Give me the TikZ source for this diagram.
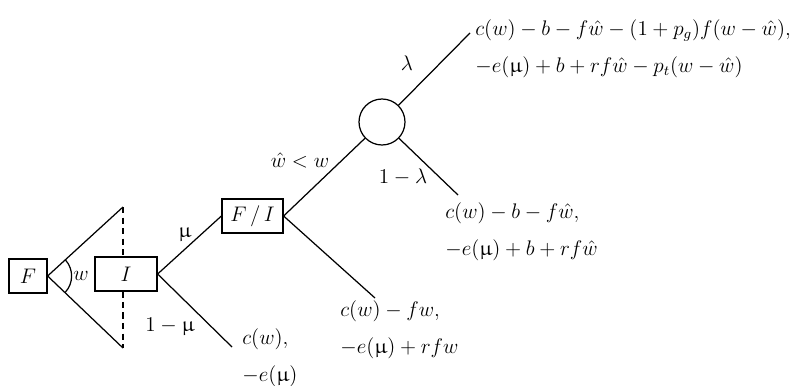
\documentclass[tikz,border=0pt]{standalone}
\usepackage{amsmath}
\usepackage{upgreek}
\usetikzlibrary{positioning}

\begin{document}
\begin{tikzpicture}[
    box/.style={rectangle, draw, fill=white, line width=0.7pt, minimum height=0.68cm, inner sep=0pt, font=\large},
    chance/.style={circle, draw, line width=0.7pt, minimum size=0.92cm, inner sep=0pt},
    pay/.style={align=left, anchor=west, inner sep=0pt, font=\fontsize{12}{21}\selectfont},
    lbl/.style={inner sep=0pt, font=\large},
    branch/.style={line width=0.7pt}
]
    \useasboundingbox (0,0) rectangle (15.94,-7.7);
    % free ends of the branches
    \coordinate (wtop) at (2.46,-4.14);
    \coordinate (wbot) at (2.46,-6.96);
    \coordinate (endmu) at (4.64,-6.94);
    \coordinate (endlam) at (9.4,-0.66);
    \coordinate (endnlam) at (9.16,-3.9);
    \coordinate (endfi) at (7.5,-5.96);
    \draw[branch, dash pattern=on 3.5pt off 2.5pt] (wtop) -- (wbot);
    \node[box, minimum width=0.76cm] (F) at (0.56,-5.52) {$F$};
    \node[box, minimum width=1.24cm] (I) at (2.52,-5.48) {$I$};
    \node[box, minimum width=1.22cm] (FI) at (5.05,-4.32) {$F\,/\,I$};
    \node[chance] (nat) at (7.64,-2.44) {};
    \draw[branch] (F.east) -- (wtop);
    \draw[branch] (F.east) -- (wbot);
    \draw[branch] (F.east) ++(42:0.48) arc (42:-43:0.48);
    \node[lbl] (wlab) at (1.62,-5.52) {$w$};
    \draw[branch] (I.east) -- (FI.west);
    \draw[branch] (I.east) -- (endmu);
    \node[lbl] (mu) at (3.7,-4.7) {$\upmu$};
    \node[lbl] (nmu) at (3.4,-6.54) {$1-\upmu$};
    \draw[branch] (FI.east) -- (nat);
    \draw[branch] (FI.east) -- (endfi);
    \node[lbl] (cond) at (6.0,-3.2) {$\hat{w}<w$};
    \draw[branch] (nat) -- (endlam);
    \draw[branch] (nat) -- (endnlam);
    \node[lbl] (lam) at (8.14,-1.26) {$\lambda$};
    \node[lbl] (nlam) at (8.06,-3.54) {$1-\lambda$};
    % payoffs
    \node[pay] (p1) at (9.5,-0.98) {$c(w)-b-f\hat{w}-(1+p_g)f(w-\hat{w}),$\\$-e(\upmu)+b+rf\hat{w}-p_t(w-\hat{w})$};
    \node[pay] (p2) at (8.9,-4.64) {$c(w)-b-f\hat{w},$\\$-e(\upmu)+b+rf\hat{w}$};
    \node[pay] (p3) at (6.8,-6.6) {$c(w)-fw,$\\$-e(\upmu)+rfw$};
    \node[pay] (p4) at (4.84,-7.16) {$c(w),$\\$-e(\upmu)$};
\end{tikzpicture}
\end{document}
